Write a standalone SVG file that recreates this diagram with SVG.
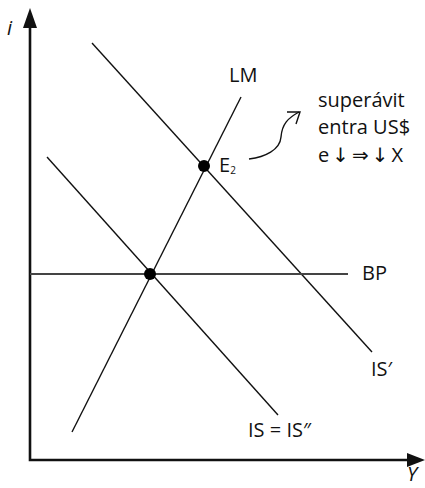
<svg xmlns="http://www.w3.org/2000/svg" width="425" height="488" viewBox="0 0 425 488">
<style>
.ax{stroke:#111;stroke-width:2.6;fill:none}
.ln{stroke:#111;stroke-width:1.4;fill:none}
.t{font-family:"Open Sans","Noto Sans",sans-serif;font-size:20px;fill:#111}
.ar{font-family:"DejaVu Sans",sans-serif;font-size:20px}
.it{font-style:italic}
.dot{fill:#000}
</style>
<rect width="425" height="488" fill="#fff"/>
<g id="axes">
<path class="ax" d="M30,24 V460 H410"/>
<polygon points="30,8 23,28 37,28" fill="#111"/>
<polygon points="425,460 407,453 407,467" fill="#111"/>
<text class="t it" x="7" y="35">i</text>
<text class="t it" x="407" y="481" font-size="18">Y</text>
</g>
<g id="connectors">
<line class="ln" x1="92" y1="43" x2="372" y2="352"/>
<line class="ln" x1="47" y1="157" x2="278" y2="415"/>
<line class="ln" x1="241" y1="97" x2="72" y2="432"/>
<line x1="30" y1="274" x2="348" y2="274" stroke="#444" stroke-width="1.8"/>
<path class="ln" d="M249,159 C265,157 280,150 281,137 C282,124 288,118 299,112"/>
<path class="ln" stroke-width="1.8" d="M287,112 L300,112 L296,124"/>
</g>
<g id="E1"><circle class="dot" cx="150" cy="274" r="6"/></g>
<g id="E2"><circle class="dot" cx="204" cy="166" r="6"/>
<text class="t" x="219" y="172">E<tspan font-size="10" dy="2">2</tspan></text></g>
<g id="LM"><text class="t" x="229" y="82">LM</text></g>
<g id="BP"><text class="t" x="362" y="280">BP</text></g>
<g id="ISp"><text class="t" x="371" y="376">IS′</text></g>
<g id="ISpp"><text class="t" x="248" y="437">IS = IS″</text></g>
<g id="note">
<text class="t" x="318" y="107">superávit</text>
<text class="t" x="318" y="134">entra US$</text>
<text class="t" x="318" y="162">e<tspan class="ar" dx="3">↓</tspan><tspan class="ar" dx="3">⇒</tspan><tspan class="ar" dx="3">↓</tspan><tspan dx="3">X</tspan></text>
</g>
</svg>
